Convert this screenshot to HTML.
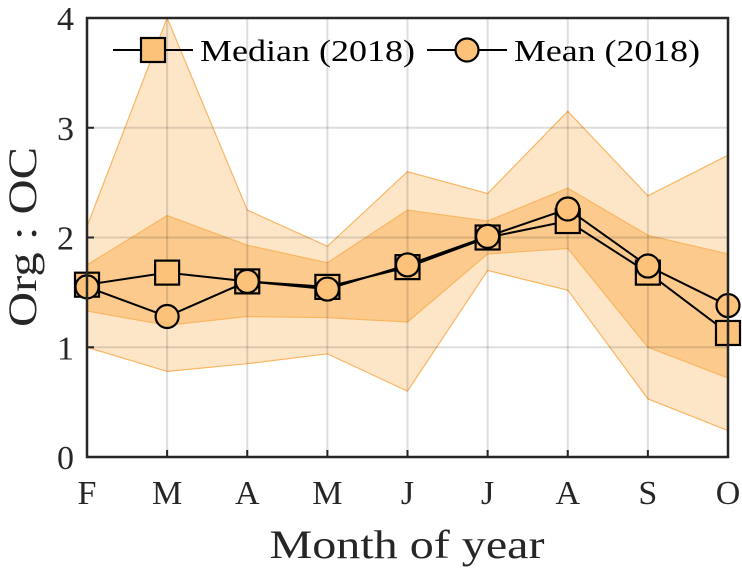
<!DOCTYPE html>
<html><head><meta charset="utf-8"><style>
html,body{margin:0;padding:0;background:#fff;}
svg{display:block;font-family:"Liberation Serif",serif;}
</style></head><body>
<svg id="chart" width="742" height="568" viewBox="0 0 742 568">
<g id="bands"></g><g id="grid"></g><g id="lines"></g>
<rect x="87" y="18" width="641" height="439" fill="none" stroke="#262626" stroke-width="2.5"/>
<g id="ticks"></g>
<text x="407" y="558" font-size="40" text-anchor="middle" textLength="275" lengthAdjust="spacingAndGlyphs" fill="#262626">Month of year</text>
<text transform="translate(36,237) rotate(-90)" font-size="40" text-anchor="middle" textLength="180" lengthAdjust="spacingAndGlyphs" fill="#262626">Org : OC</text>
<g>
<g>
<line x1="113" y1="50" x2="193" y2="50" stroke="#000" stroke-width="2"/>
<rect x="141" y="38" width="24" height="24" fill="#fdc27a" stroke="#000" stroke-width="2.2"/>
<text x="200" y="61" font-size="31" textLength="215" lengthAdjust="spacingAndGlyphs" fill="#000">Median (2018)</text>
</g>
<g>
<line x1="427" y1="50" x2="507" y2="50" stroke="#000" stroke-width="2"/>
<circle cx="467" cy="50" r="11.5" fill="#fdc27a" stroke="#000" stroke-width="2.2"/>
<text x="514" y="61" font-size="31" textLength="186" lengthAdjust="spacingAndGlyphs" fill="#000">Mean (2018)</text>
</g>
</g>
</svg>
<script>
const months = ["F","M","A","M","J","J","A","S","O"];
const yTicks = [0,1,2,3,4];
const outerUpper = [2.1,4.0,2.25,1.92,2.6,2.4,3.15,2.38,2.75];
const outerLower = [1.0,0.78,0.85,0.94,0.6,1.7,1.52,0.53,0.24];
const innerUpper = [1.75,2.2,1.93,1.77,2.25,2.15,2.45,2.02,1.85];
const innerLower = [1.33,1.2,1.28,1.27,1.23,1.85,1.9,1.0,0.72];
const medianVals = [1.57,1.68,1.6,1.55,1.73,2.0,2.15,1.68,1.13];
const meanVals = [1.55,1.28,1.6,1.53,1.75,2.01,2.26,1.74,1.38];

const NS="http://www.w3.org/2000/svg";
const X0=87,X1=728,Y0=457,Y1=18;
const xs=i=>X0+i*(X1-X0)/(months.length-1);
const ys=v=>Y0-(v/4)*(Y0-Y1);
function mk(tag,attrs,parent){const e=document.createElementNS(NS,tag);for(const k in attrs)e.setAttribute(k,attrs[k]);parent.appendChild(e);return e;}
const gB=document.getElementById('bands'),gG=document.getElementById('grid'),gL=document.getElementById('lines'),gT=document.getElementById('ticks');
months.forEach((m,i)=>{
  const l=mk('line',{x1:xs(i),x2:xs(i),y1:Y1,y2:Y0,stroke:'#000','stroke-opacity':0.13,'stroke-width':2},gG);
  
  
  const t=mk('line',{x1:xs(i),x2:xs(i),y1:Y0,y2:Y0-7,stroke:'#262626','stroke-width':2},gT);
  
  
  const tx=mk('text',{x:xs(i),y:Y0+47,'font-size':34,'text-anchor':'middle',fill:'#262626'},gT);
  tx.textContent=m;
  
  
});
yTicks.forEach(v=>{
  const l=mk('line',{x1:X0,x2:X1,y1:ys(v),y2:ys(v),stroke:'#000','stroke-opacity':0.13,'stroke-width':2},gG);
  
  
  const t=mk('line',{x1:X0,x2:X0+7,y1:ys(v),y2:ys(v),stroke:'#262626','stroke-width':2},gT);
  
  
  const tx=mk('text',{x:74,y:ys(v)+12,'font-size':34,'text-anchor':'end',fill:'#262626'},gT);
  tx.textContent=v;
  
  
});
function band(up,lo,fill,name){
  let pts=up.map((v,i)=>xs(i)+','+ys(v));
  for(let i=lo.length-1;i>=0;i--)pts.push(xs(i)+','+ys(lo[i]));
  const p=mk('polygon',{points:pts.join(' '),fill:fill,stroke:'#f9b662','stroke-width':1.2},gB);
  
  
}
band(outerUpper,outerLower,'#fde6c8','outer-range-band');
band(innerUpper,innerLower,'#fbca8c','inner-range-band');
function series(vals,name,sq){
  const pl=mk('polyline',{points:vals.map((v,i)=>xs(i)+','+ys(v)).join(' '),fill:'none',stroke:'#000','stroke-width':2},gL);
  
  
  vals.forEach((v,i)=>{
    let m;
    if(sq) m=mk('rect',{x:xs(i)-12,y:ys(v)-12,width:24,height:24,fill:'#fdc27a',stroke:'#000','stroke-width':2.2},gL);
    else m=mk('circle',{cx:xs(i),cy:ys(v),r:11.5,fill:'#fdc27a',stroke:'#000','stroke-width':2.2},gL);
    
    
  });
}
series(medianVals,'median',true);
series(meanVals,'mean',false);
</script>
</body></html>
